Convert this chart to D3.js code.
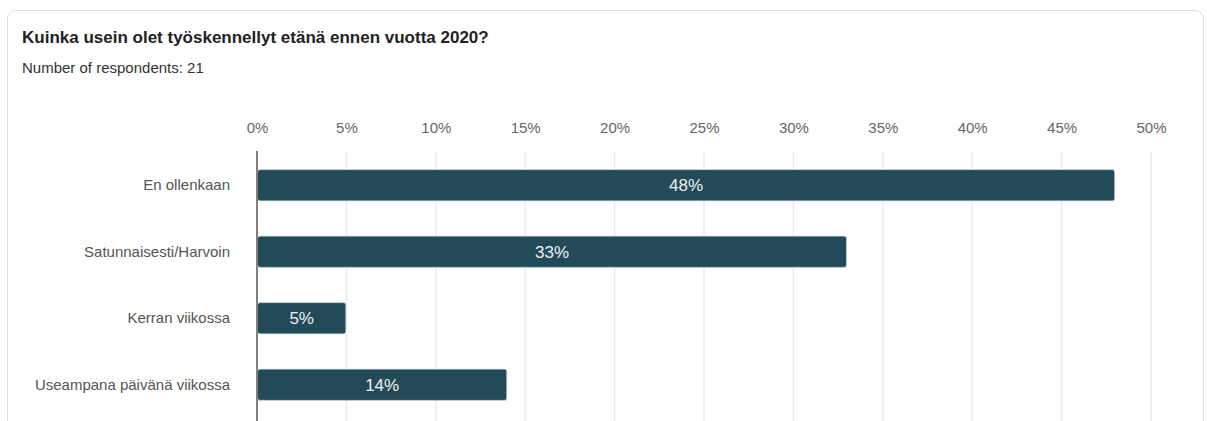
<!DOCTYPE html>
<html>
<head>
<meta charset="utf-8">
<script src="https://cdn.jsdelivr.net/npm/d3@7"></script>
<style>
  html, body { margin: 0; padding: 0; background: #fff; }
  body { width: 1207px; height: 421px; overflow: hidden; font-family: "Liberation Sans", Arial, sans-serif; }
  .card {
    position: absolute; left: 7px; top: 10px; width: 1197px; height: 440px;
    border: 1px solid #dedede; border-radius: 9px; box-sizing: border-box;
  }
  svg { position: absolute; left: 0; top: 0; }
</style>
</head>
<body>
<div class="card"></div>
<svg id="chart" width="1207" height="421"></svg>
<script>
// Survey: how often respondents worked remotely before 2020
const title = "Kuinka usein olet työskennellyt etänä ennen vuotta 2020?";
const subtitle = "Number of respondents: 21";
const categories = ["En ollenkaan", "Satunnaisesti/Harvoin", "Kerran viikossa", "Useampana päivänä viikossa"];
const percentages = [48, 33, 5, 14];
const tickValues = [0, 5, 10, 15, 20, 25, 30, 35, 40, 45, 50];

const svg = d3.select("#chart");

svg.append("text")
  .attr("x", 22).attr("y", 42.5)
  .attr("font-size", 17).attr("font-weight", "bold").attr("fill", "#222")
  .text(title);

svg.append("text")
  .attr("x", 22).attr("y", 73)
  .attr("font-size", 15).attr("fill", "#333")
  .text(subtitle);

const x = d3.scaleLinear().domain([0, 50]).range([257, 1151]);
const y = d3.scaleBand().domain(categories).range([152, 418]).paddingInner(0.53).paddingOuter(0.265);

// Vertical gridlines
svg.append("g")
  .selectAll("line")
  .data(tickValues.slice(1))
  .join("line")
  .attr("x1", d => x(d)).attr("x2", d => x(d))
  .attr("y1", 151).attr("y2", 421)
  .attr("stroke", "#ebebeb").attr("stroke-width", 1.5);

// Top axis labels
const axis = svg.append("g")
  .attr("transform", "translate(0,133)")
  .call(d3.axisTop(x).tickValues(tickValues).tickFormat(d => d + "%").tickSize(0).tickPadding(0));
axis.select(".domain").remove();
axis.selectAll("text")
  .attr("font-family", "Liberation Sans, Arial, sans-serif")
  .attr("font-size", 15).attr("fill", "#666");

// Category labels
const yAxis = svg.append("g")
  .attr("transform", "translate(230,0)")
  .call(d3.axisLeft(y).tickSize(0).tickPadding(0));
yAxis.select(".domain").remove();
yAxis.selectAll("text")
  .attr("font-family", "Liberation Sans, Arial, sans-serif")
  .attr("font-size", 15).attr("fill", "#555");

// Bars
const bars = svg.append("g");
bars.selectAll("rect")
  .data(percentages)
  .join("rect")
  .attr("x", x(0) + 0.5)
  .attr("y", (d, i) => y(categories[i]))
  .attr("width", d => x(d) - x(0) - 1)
  .attr("height", y.bandwidth())
  .attr("rx", 2.5)
  .attr("fill", "#234a59")
  .attr("stroke", "#d5dde0").attr("stroke-width", 0.8);

bars.selectAll("text")
  .data(percentages)
  .join("text")
  .attr("x", d => (x(0) + x(d)) / 2)
  .attr("y", (d, i) => y(categories[i]) + y.bandwidth() / 2)
  .attr("dy", "0.36em")
  .attr("text-anchor", "middle")
  .attr("font-size", 17).attr("fill", "#f0f0f0")
  .text(d => d + "%");

// Zero baseline
svg.append("line")
  .attr("x1", x(0)).attr("x2", x(0))
  .attr("y1", 151).attr("y2", 421)
  .attr("stroke", "#808080").attr("stroke-width", 2);
</script>
</body>
</html>
